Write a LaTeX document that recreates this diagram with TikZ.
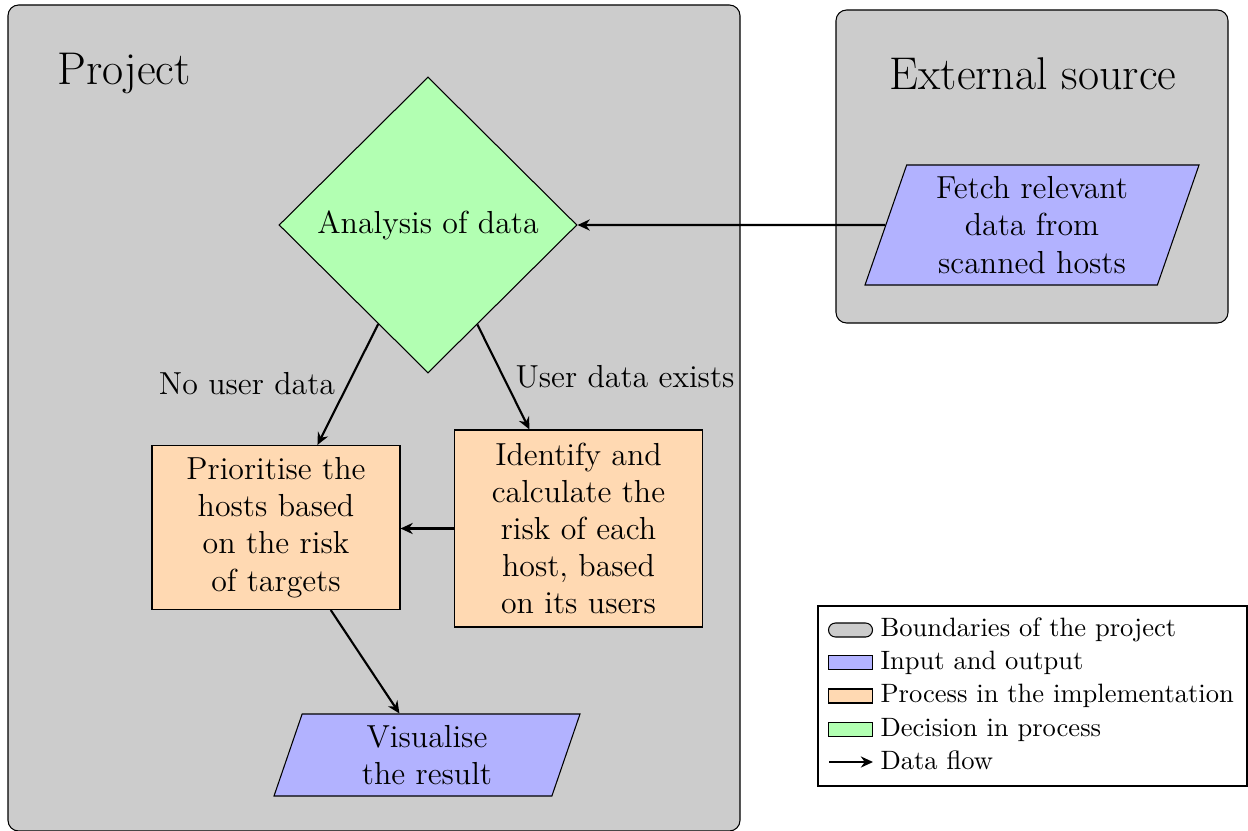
\documentclass[tikz,border=0pt]{standalone}
\usetikzlibrary{shapes.geometric,arrows.meta}

% one drawing unit
\newcommand\pxu{0.3766pt}

\definecolor{boundfill}{HTML}{CCCCCC}
\colorlet{iofill}{blue!30}
\colorlet{procfill}{orange!30}
\colorlet{decfill}{green!30}

\begin{document}
\begin{tikzpicture}[
  x=\pxu, y=-\pxu,
  every node/.style={font=\large},
  boundary/.style={draw, fill=boundfill, rounded corners, inner sep=0pt},
  boundtitle/.style={font=\LARGE, anchor=base},
  iobox/.style={trapezium, trapezium left angle=70, trapezium right angle=110,
    trapezium stretches body, draw, fill=iofill, align=center},
  procbox/.style={rectangle, draw, fill=procfill, align=center,
    minimum width=248*\pxu},
  decbox/.style={diamond, aspect=1, draw, fill=decfill,
    minimum width=298*\pxu, minimum height=296*\pxu},
  flow/.style={-{Stealth[length=4.6pt, width=4.2pt, inset=1.5pt]}, thick},
  flowlabel/.style={inner sep=0pt},
  legendframe/.style={draw, fill=white, inner sep=0pt},
  swatch/.style={draw, minimum width=44*\pxu, minimum height=14*\pxu, inner sep=0pt},
  legtext/.style={font=\normalsize, anchor=base west, inner sep=0pt},
]
\useasboundingbox (0,0) rectangle (1248,830);

% system boundaries
\node[boundary, minimum width=732*\pxu, minimum height=826*\pxu] (project) at (374,418) {};
\node[boundary, minimum width=392*\pxu, minimum height=313*\pxu] (external) at (1032,166.5) {};
\node[boundtitle] (projtitle) at (124,85) {Project};
\node[boundtitle] (exttitle) at (1033,90) {External source};

% flowchart elements
\node[decbox] (decide) at (428,225) {Analysis of data};
\node[iobox, minimum width=334*\pxu, minimum height=120*\pxu] (fetch) at (1032,225)
  {Fetch relevant\\data from\\scanned hosts};
\node[procbox, minimum height=164*\pxu] (prio) at (276,527.5)
  {Prioritise the\\hosts based\\on the risk\\of targets};
\node[procbox, minimum height=197*\pxu] (ident) at (578.5,528.5)
  {Identify and\\calculate the\\risk of each\\host, based\\on its users};
\node[iobox, minimum width=306*\pxu, minimum height=82*\pxu] (visual) at (427,755)
  {Visualise\\the result};

% data flow
\draw[flow] (fetch) -- (decide);
\draw[flow] (decide) -- (prio);
\draw[flow] (decide) -- (ident);
\draw[flow] (ident.west) -- (ident.west -| prio.east);
\draw[flow] (prio) -- (visual);

\node[flowlabel, anchor=base] (nouser) at (247,394) {No user data};
\node[flowlabel, anchor=base west] (hasuser) at (515,387) {User data exists};

% legend
\node[legendframe, minimum width=429*\pxu, minimum height=180*\pxu] (legend) at (1032.5,696) {};
\node[swatch, fill=boundfill, rounded corners=7*\pxu] (swbound) at (850.5,630) {};
\node[swatch, fill=iofill] (swio) at (850.5,662.5) {};
\node[swatch, fill=procfill] (swproc) at (850.5,696) {};
\node[swatch, fill=decfill] (swdec) at (850.5,729.5) {};
\coordinate (lgA) at (829,762);
\coordinate (lgB) at (873,762);
\draw[flow] (lgA) -- (lgB);
\node[legtext] (ltbound) at (880,636) {Boundaries of the project};
\node[legtext] (ltio) at (880,669) {Input and output};
\node[legtext] (ltproc) at (880,702) {Process in the implementation};
\node[legtext] (ltdec) at (880,736) {Decision in process};
\node[legtext] (ltflow) at (880,769) {Data flow};
\end{tikzpicture}
\end{document}
